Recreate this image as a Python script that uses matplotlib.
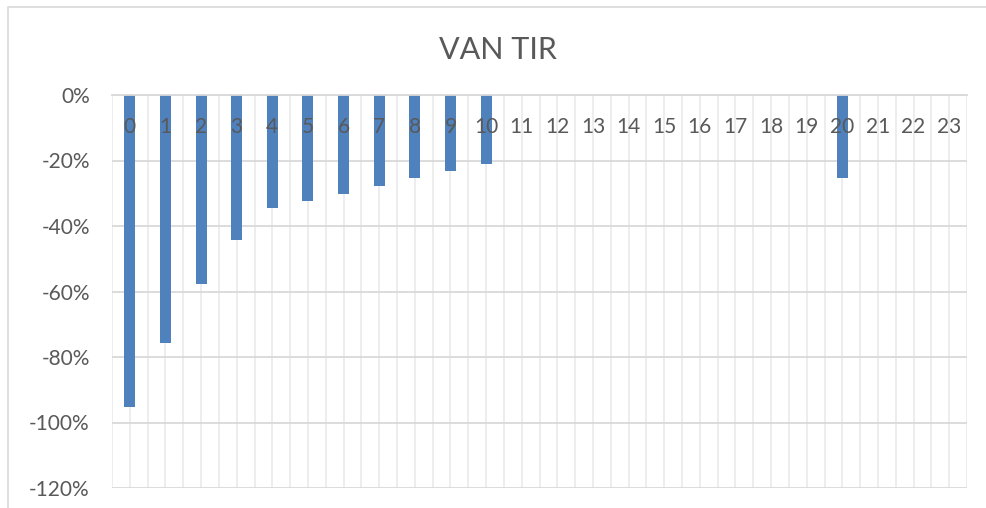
import numpy as np
import matplotlib.pyplot as plt
from matplotlib.patches import Rectangle
from matplotlib.ticker import FuncFormatter

plt.rcParams['font.family'] = ['Lato', 'DejaVu Sans']

# datos (fraccion, negativa)
periodos = list(range(24))
valores = [-0.953, -0.757, -0.577, -0.443, -0.345, -0.324, -0.302, -0.278,
           -0.254, -0.231, -0.211, 0, 0, 0, 0, 0, 0, 0, 0, 0,
           -0.252, 0, 0, 0]
y_ticks = [0, -0.2, -0.4, -0.6, -0.8, -1.0, -1.2]
titulo = "VAN TIR"

gris_texto = '#595959'

fig = plt.figure(figsize=(9.86, 5.08), dpi=100)
ax = fig.add_axes([112 / 986, 1 - 488 / 508, (967 - 112) / 986, (488 - 95) / 508])

ax.bar(periodos, valores, width=0.31, color='#4f81bd', zorder=1)

ax.set_xlim(-0.5, len(periodos) - 0.5)
ax.set_ylim(min(y_ticks), 0)
ax.set_yticks(y_ticks)
ax.yaxis.set_major_formatter(FuncFormatter(lambda v, p: f"{v * 100:.0f}%"))
ax.set_xticks(periodos)
ax.set_xticklabels([str(p) for p in periodos])

# cuadricula detras de las barras
for y in y_ticks:
    ax.axhline(y, color='#d9d9d9', lw=1.3, zorder=0.5)
for x in np.arange(-0.5, len(periodos), 0.5):
    ax.axvline(x, color='#ececec', lw=1.3, zorder=0.4)

for s in ['top', 'right', 'left']:
    ax.spines[s].set_visible(False)
ax.spines['bottom'].set_position(('data', 0))
ax.spines['bottom'].set_color('#d9d9d9')
ax.spines['bottom'].set_linewidth(1.3)

ax.tick_params(axis='y', length=0, pad=16, labelsize=15, labelcolor=gris_texto)
ax.tick_params(axis='x', length=0, pad=16, labelsize=15, labelcolor=gris_texto)

fig.text(498 / 986, 1 - 50 / 508, titulo, ha='center', va='center',
         fontsize=22, color=gris_texto)

# borde del grafico
fig.patches.append(Rectangle((8 / 986, -0.05), 1.1, 1 - 7 / 508 + 0.05,
                             transform=fig.transFigure, fill=False,
                             edgecolor='#d9d9d9', lw=1.2))

plt.savefig('out.png', dpi=100)
plt.close()
